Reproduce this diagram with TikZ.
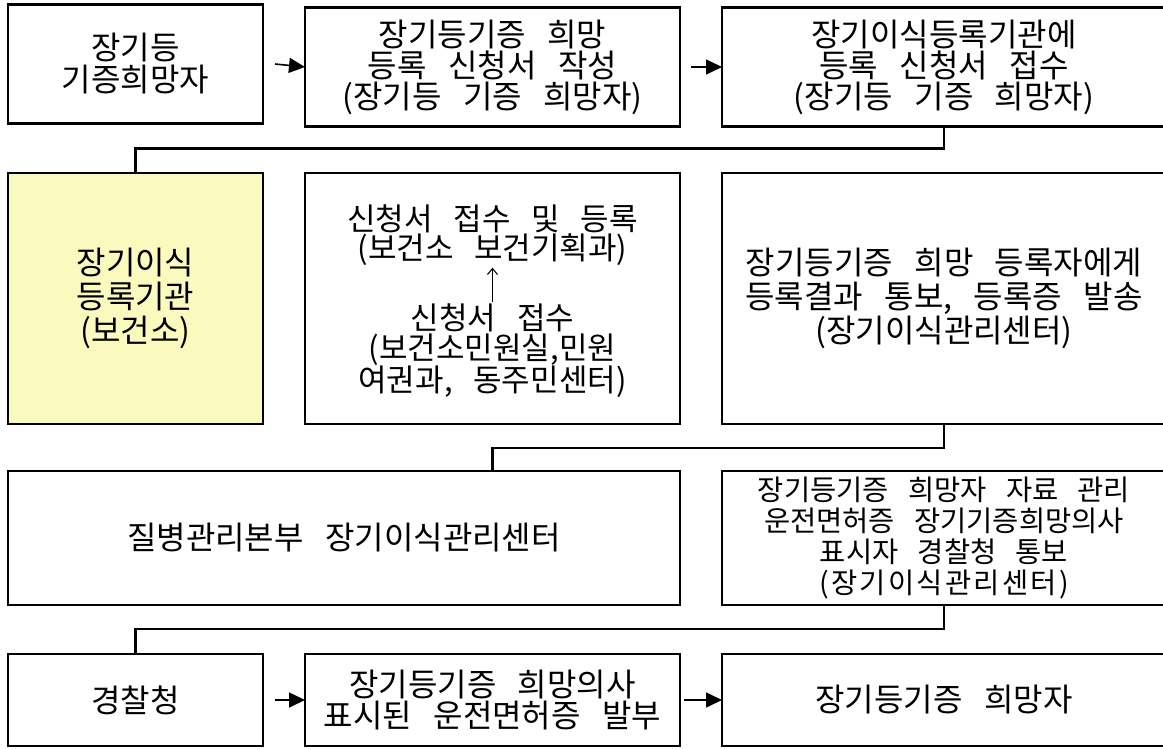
\documentclass[tikz,border=0pt]{standalone}
\usepackage{fontspec}
\setmainfont{Noto Sans CJK KR}[WordSpace=3]
\usetikzlibrary{arrows.meta}
\definecolor{paleyellow}{RGB}{250,250,190}
\begin{document}
\begin{tikzpicture}[x=1pt,y=-1pt,
  box/.style={draw=black,line width=2.6pt,fill=white,inner sep=0pt,outer sep=0pt,
    align=center,anchor=center,font=\fontsize{32}{32}\selectfont},
  rowtwo/.style={font=\fontsize{32}{34}\selectfont},
  txt/.style={inner sep=0pt,outer sep=0pt,align=center,anchor=center,font=\fontsize{31}{29.5}\selectfont},
  conn/.style={line width=2.4pt,line cap=rect},
  flow/.style={line width=1.6pt,-{Triangle[length=16pt,width=15pt]}},
  thinarrow/.style={line width=1.1pt,-{Straight Barb[length=6pt,width=10pt]}}
]
\useasboundingbox (0,0) rectangle (1163,748);
% row 1
\node[box,minimum width=255pt,minimum height=119pt] (b1) at (135.5,64) {장기등\\기증희망자};
\node[box,minimum width=375pt,minimum height=119pt,font=\fontsize{32}{31}\selectfont] (b2) at (492.5,67) {장기등기증 희망\\등록 신청서 작성\\(장기등 기증 희망자)};
\node[box,minimum width=444pt,minimum height=119pt,font=\fontsize{32}{31}\selectfont] (b3) at (944,67) {장기이식등록기관에\\등록 신청서 접수\\(장기등 기증 희망자)};
% row 2
\node[box,rowtwo,fill=paleyellow,minimum width=255pt,minimum height=251pt] (y1) at (135.5,298.5) {장기이식\\등록기관\\(보건소)};
\node[box,minimum width=375pt,minimum height=251pt] (b5) at (492.5,298.5) {};
\node[txt] (t5a) at (492.5,235) {신청서 접수 및 등록\\(보건소 보건기획과)};
\node[txt] (t5b) at (492.5,351) {신청서 접수\\(보건소민원실,민원\\여권과, 동주민센터)};
\node[box,rowtwo,minimum width=444pt,minimum height=251pt] (b6) at (944,298.5) {장기등기증 희망 등록자에게\\등록결과 통보, 등록증 발송\\(장기이식관리센터)};
% row 3
\node[box,minimum width=672pt,minimum height=134pt] (c1) at (344,538) {질병관리본부 장기이식관리센터};
\node[box,minimum width=444pt,minimum height=134pt,font=\fontsize{28.5}{31}\selectfont] (c2) at (944,538) {장기등기증 희망자 자료 관리\\운전면허증 장기기증희망의사\\표시자 경찰청 통보\\{\addfontfeature{LetterSpace=8}(장기이식관리센터)}};
% row 4
\node[box,minimum width=255pt,minimum height=92pt] (d1) at (135.5,700) {경찰청};
\node[box,minimum width=375pt,minimum height=92pt,font=\fontsize{32}{31}\selectfont] (d2) at (492.5,700) {장기등기증 희망의사\\표시된 운전면허증 발부};
\node[box,minimum width=444pt,minimum height=92pt] (d3) at (944,700) {장기등기증 희망자};
% arrows
\draw[flow] ([xshift=12pt]b1.east) -- (b2.west);
\draw[flow] ([xshift=11pt]b2.east) -- (b3.west);
\draw[flow] ([xshift=12pt]d1.east) -- (d2.west);
\draw[flow] ([xshift=4pt]d2.east) -- (d3.west);
\draw[thinarrow,shorten <=2pt,shorten >=2pt] (t5b.north) -- (t5a.south);
% connectors
\draw[conn] (b3.south) -- ++(0,22) -| (y1.north);
\draw[conn] (b6.south) -- ++(0,24) -| (b5.south |- c1.north);
\draw[conn] (c2.south) -- ++(0,24) -| (d1.north);
\end{tikzpicture}
\end{document}
